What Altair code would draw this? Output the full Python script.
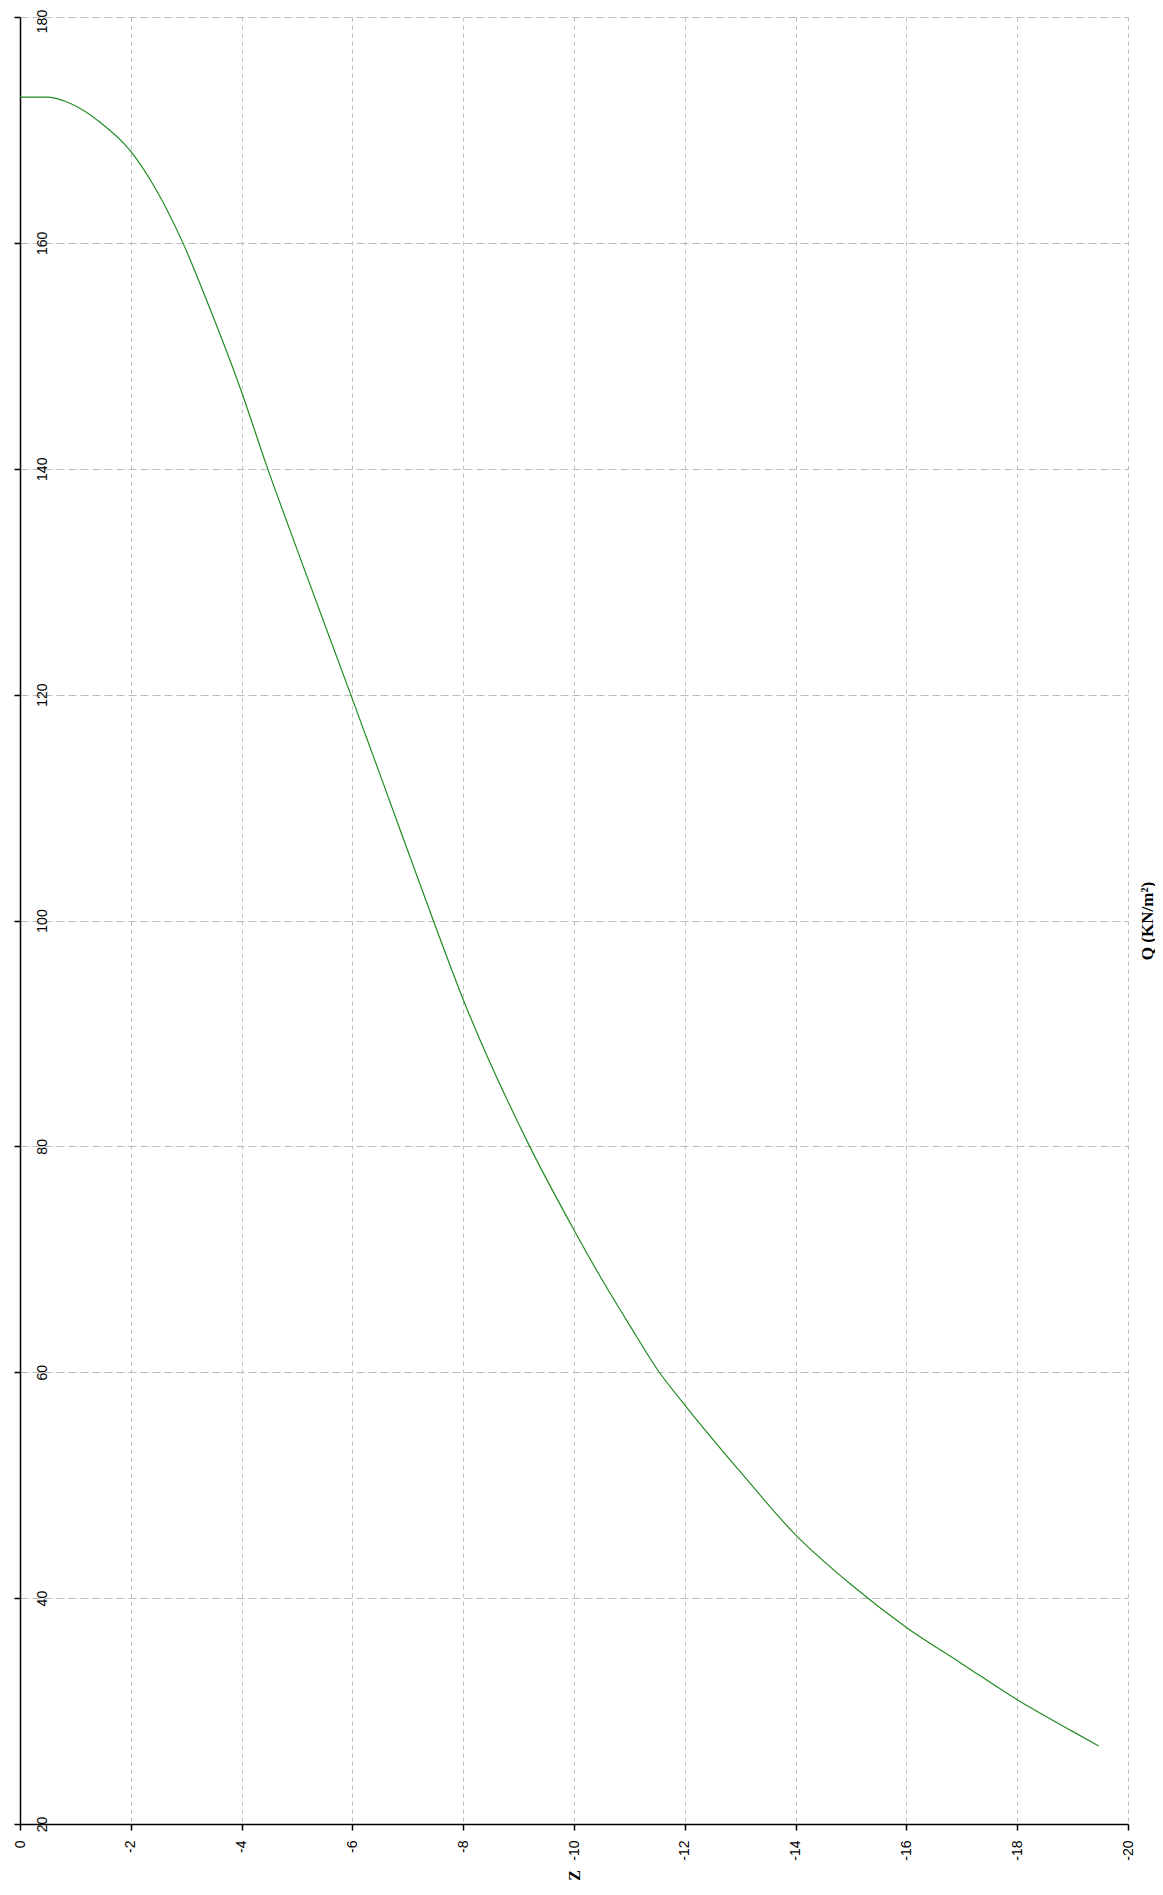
import altair as alt
import pandas as pd

# Curve (depth Z in m, pressure Q in KN/m²)
z_values = [0, -0.5, -0.93, -1.44, -2.0, -2.47, -2.94, -3.37, -4.0, -4.45,
            -5.05, -6.0, -6.56, -7.46, -8.0, -9.2, -10.0, -10.47, -11.0, -11.54,
            -12.0, -13.0, -14.0, -15.0, -16.0, -17.0, -18.0, -19.0, -19.47]
q_values = [172.9, 172.9, 172.3, 170.7, 168.1, 164.6, 160.0, 154.9, 146.8, 140.3,
            132.2, 119.6, 112.1, 100.0, 93.0, 80.0, 72.6, 68.5, 64.2, 60.0,
            57.1, 51.2, 45.6, 41.2, 37.4, 34.2, 31.0, 28.2, 26.9]

x_ticks = [0, -2, -4, -6, -8, -10, -12, -14, -16, -18, -20]
y_ticks = [20, 40, 60, 80, 100, 120, 140, 160, 180]

df = pd.DataFrame({"Z": z_values, "Q": q_values})

PLOT_W = 1108
PLOT_H = 1807

x_axis = alt.Axis(
    values=x_ticks,
    orient="bottom",
    labelExpr="toString(datum.value)",
    labelAngle=270,
    labelAlign="right",
    labelBaseline="middle",
    labelPadding=10,
    labelFont="Liberation Sans",
    labelFontSize=14,
    labelColor="#000000",
    tickSize=6,
    tickColor="#000000",
    tickWidth=1.5,
    domainColor="#000000",
    domainWidth=1.5,
    grid=True,
    gridColor="#bdbdbd",
    gridDash=[4, 4],
    gridWidth=1,
    title="Z",
    titleFont="Liberation Serif",
    titleFontWeight="bold",
    titleFontSize=16,
    titleColor="#000000",
    titleAngle=270,
    titleAlign="center",
    titleBaseline="middle",
    titleX=PLOT_W / 2,
    titleY=51,
)

y_axis = alt.Axis(
    values=y_ticks,
    orient="left",
    labelExpr="toString(datum.value)",
    labelAngle=270,
    labelAlign="center",
    labelBaseline="top",
    labelPadding=-21,
    labelOffset={"condition": {"test": "datum.value == 180", "value": 4}, "value": 0},
    labelFont="Liberation Sans",
    labelFontSize=14,
    labelColor="#000000",
    tickSize=6,
    tickColor="#000000",
    tickWidth=1.5,
    domainColor="#000000",
    domainWidth=1.5,
    grid=True,
    gridColor="#bdbdbd",
    gridDash=[8, 4],
    gridWidth=1,
    title="Q (KN/m²)",
    titleFont="Liberation Serif",
    titleFontWeight="bold",
    titleFontSize=17,
    titleColor="#000000",
    titleAngle=270,
    titleAlign="center",
    titleBaseline="middle",
    titleX=1127,
    titleY=PLOT_H / 2,
)

chart = alt.Chart(df).mark_line(color="#228b22", strokeWidth=1.2, interpolate="monotone").encode(
    x=alt.X("Z:Q", scale=alt.Scale(domain=[0, -20], nice=False, zero=False), axis=x_axis),
    y=alt.Y("Q:Q", scale=alt.Scale(domain=[20, 180], nice=False, zero=False), axis=y_axis),
).properties(
    width=PLOT_W,
    height=PLOT_H,
    autosize=alt.AutoSizeParams(type="none"),
    padding={"left": 12, "top": 9, "right": 27, "bottom": 58},
    background="#ffffff",
).configure_view(stroke=None)

chart.save("out.html", embed_options={"renderer": "svg", "actions": False})
